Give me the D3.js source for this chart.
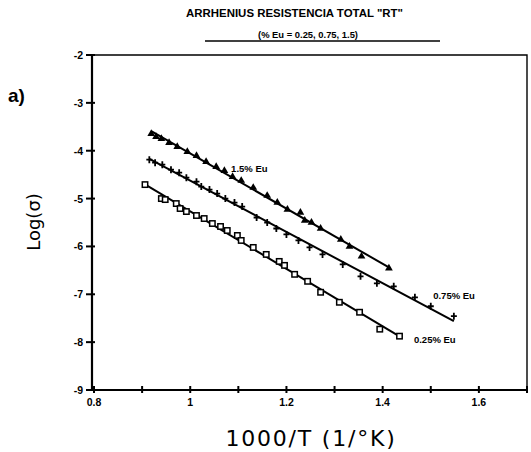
<!DOCTYPE html>
<html>
<head>
<meta charset="utf-8">
<script src="https://cdn.jsdelivr.net/npm/d3@7/dist/d3.min.js"></script>
<style>
  html, body { margin: 0; padding: 0; background: #fff; }
  svg { display: block; }
  text { fill: #000; }
</style>
</head>
<body>
<svg id="chart" width="531" height="452"></svg>
<script>
// Arrhenius plot: log(sigma) versus 1000/T for three Eu concentrations

// 1.5 % Eu  (filled markers)
const eu150X = [0.919, 0.929, 0.940, 0.956, 0.973, 0.994, 1.013, 1.033, 1.054, 1.071, 1.088, 1.106,
                1.131, 1.160, 1.181, 1.202, 1.229, 1.238, 1.252, 1.271, 1.313, 1.331, 1.356, 1.413];
const eu150Y = [-3.646, -3.708, -3.750, -3.833, -3.917, -4.021, -4.104, -4.229, -4.333, -4.417, -4.542, -4.625,
                -4.771, -4.938, -5.083, -5.229, -5.292, -5.458, -5.500, -5.625, -5.854, -6.000, -6.208, -6.458];

// 0.75 % Eu  (crosses)
const eu075X = [0.915, 0.927, 0.942, 0.960, 0.977, 0.992, 1.013, 1.023, 1.040, 1.056, 1.073, 1.092, 1.108,
                1.138, 1.160, 1.179, 1.200, 1.225, 1.248, 1.275, 1.317, 1.354, 1.388, 1.423, 1.467, 1.500, 1.548];
const eu075Y = [-4.188, -4.250, -4.292, -4.396, -4.458, -4.563, -4.646, -4.750, -4.813, -4.896, -5.000, -5.083, -5.167,
                -5.396, -5.500, -5.625, -5.750, -5.875, -6.021, -6.167, -6.375, -6.625, -6.771, -6.833, -7.063, -7.250, -7.458];

// 0.25 % Eu  (open squares)
const eu025X = [0.906, 0.940, 0.948, 0.971, 0.979, 0.992, 1.013, 1.029, 1.046, 1.063, 1.077, 1.098,
                1.106, 1.131, 1.158, 1.185, 1.196, 1.217, 1.244, 1.271, 1.310, 1.352, 1.394, 1.435];
const eu025Y = [-4.708, -5.000, -5.021, -5.104, -5.208, -5.271, -5.354, -5.417, -5.521, -5.583, -5.667, -5.771,
                -5.875, -6.021, -6.167, -6.313, -6.396, -6.583, -6.729, -6.958, -7.167, -7.375, -7.729, -7.875];

const seriesNames = ["1.5% Eu", "0.75% Eu", "0.25% Eu"];
const xTicks = [0.8, 0.9, 1.0, 1.1, 1.2, 1.3, 1.4, 1.5, 1.6, 1.7];
const xTickLabels = ["0.8", "", "1", "", "1.2", "", "1.4", "", "1.6", ""];
const yTicks = [-2, -3, -4, -5, -6, -7, -8, -9];
const yTickLabels = ["-2", "-3", "-4", "-5", "-6", "-7", "-8", "-9"];

const svg = d3.select("#chart");
const plot = { left: 92, right: 527, top: 55, bottom: 390 };

const x = d3.scaleLinear().domain([0.8, 1.7]).range([plot.left + 2, plot.right]);
const y = d3.scaleLinear().domain([-9, -2]).range([plot.bottom, plot.top]);

const zip = (xs, ys) => xs.map((v, i) => ({ x: v, y: ys[i] }));
const series = [
  { name: seriesNames[0], pts: zip(eu150X, eu150Y), marker: "tri" },
  { name: seriesNames[1], pts: zip(eu075X, eu075Y), marker: "plus" },
  { name: seriesNames[2], pts: zip(eu025X, eu025Y), marker: "square" }
];

const boldFont = "'Liberation Sans', Arial, sans-serif";

// Titles
svg.append("text")
  .attr("x", 186).attr("y", 17)
  .attr("textLength", 217).attr("lengthAdjust", "spacingAndGlyphs")
  .style("font-family", boldFont)
  .style("font-weight", "bold").style("font-size", "10px")
  .text("ARRHENIUS RESISTENCIA TOTAL \"RT\"");

svg.append("text")
  .attr("x", 258).attr("y", 38)
  .attr("textLength", 100).attr("lengthAdjust", "spacingAndGlyphs")
  .style("font-family", boldFont)
  .style("font-weight", "bold").style("font-size", "9.5px")
  .text("(% Eu = 0.25, 0.75, 1.5)");

svg.append("line")
  .attr("x1", 205).attr("x2", 440).attr("y1", 41).attr("y2", 41)
  .attr("stroke", "#000").attr("stroke-width", 1.3);

// Panel letter
svg.append("text")
  .attr("x", 8).attr("y", 102)
  .style("font-family", boldFont)
  .style("font-weight", "bold").style("font-size", "19px")
  .text("a)");

// Frame
const frame = svg.append("g").attr("stroke", "#000").attr("fill", "none");
frame.append("path")
  .attr("d", `M${plot.left},${plot.top}H${plot.right}V${plot.bottom}`)
  .attr("stroke-width", 1.4);
frame.append("path")
  .attr("d", `M${plot.left},${plot.top}V${plot.bottom}H${plot.right}`)
  .attr("stroke-width", 2.2);

// X axis ticks (crossing the axis line)
const gx = svg.append("g");
gx.selectAll("line").data(xTicks).join("line")
  .attr("x1", d => x(d)).attr("x2", d => x(d))
  .attr("y1", plot.bottom - 4).attr("y2", plot.bottom + 3)
  .attr("stroke", "#000").attr("stroke-width", 2);
gx.selectAll("text").data(xTicks).join("text")
  .attr("x", d => x(d)).attr("y", plot.bottom + 16)
  .attr("text-anchor", "middle")
  .style("font-family", boldFont)
  .style("font-weight", "bold").style("font-size", "10.5px")
  .text((d, i) => xTickLabels[i]);

// Y axis ticks
const gy = svg.append("g");
gy.selectAll("line").data(yTicks).join("line")
  .attr("x1", plot.left - 6).attr("x2", plot.left + 3)
  .attr("y1", d => y(d)).attr("y2", d => y(d))
  .attr("stroke", "#000").attr("stroke-width", 2);
gy.selectAll("text").data(yTicks).join("text")
  .attr("x", plot.left - 9).attr("y", d => y(d) + 4)
  .attr("text-anchor", "end")
  .style("font-family", boldFont)
  .style("font-weight", "bold").style("font-size", "10.5px")
  .text((d, i) => yTickLabels[i]);

// Axis titles
svg.append("text")
  .attr("x", 311).attr("y", 446)
  .attr("text-anchor", "middle")
  .style("font-family", "'DejaVu Sans', sans-serif")
  .style("font-size", "22px").style("letter-spacing", "1.8px")
  .text("1000/T (1/°K)");

svg.append("text")
  .attr("transform", "translate(40,222) rotate(-90)")
  .attr("text-anchor", "middle")
  .style("font-family", "'DejaVu Sans', sans-serif")
  .style("font-size", "18px")
  .text("Log(σ)");

// Least-squares fit line for each series, spanning its data
function fit(pts) {
  const mx = d3.mean(pts, p => p.x), my = d3.mean(pts, p => p.y);
  const b = d3.sum(pts, p => (p.x - mx) * (p.y - my)) / d3.sum(pts, p => (p.x - mx) ** 2);
  const a = my - b * mx;
  const [x0, x1] = d3.extent(pts, p => p.x);
  return [{ x: x0, y: a + b * x0 }, { x: x1, y: a + b * x1 }];
}

const line = d3.line().x(d => x(d.x)).y(d => y(d.y));
series.forEach(s => {
  svg.append("path")
    .attr("d", line(fit(s.pts)))
    .attr("fill", "none").attr("stroke", "#000").attr("stroke-width", 2);
});

// Markers
const triPath = d3.symbol().type(d3.symbolTriangle).size(26)();
series.forEach(s => {
  const g = svg.append("g");
  const m = g.selectAll("g").data(s.pts).join("g")
    .attr("transform", d => `translate(${x(d.x)},${y(d.y)})`);
  if (s.marker === "tri") {
    m.append("path").attr("d", triPath).attr("fill", "#000");
  } else if (s.marker === "plus") {
    m.append("path").attr("d", "M-3,0H3M0,-3.5V3.5")
      .attr("stroke", "#000").attr("stroke-width", 1.8).attr("fill", "none");
  } else {
    m.append("rect").attr("x", -2.7).attr("y", -2.7).attr("width", 5.4).attr("height", 5.4)
      .attr("fill", "#fff").attr("stroke", "#000").attr("stroke-width", 1.5);
  }
});

// Series labels
const labelPos = [
  { x: 1.085, y: -4.44 },
  { x: 1.505, y: -7.1 },
  { x: 1.465, y: -8.02 }
];
series.forEach((s, i) => {
  svg.append("text")
    .attr("x", x(labelPos[i].x)).attr("y", y(labelPos[i].y))
    .style("font-family", boldFont)
    .style("font-weight", "bold").style("font-size", "9.5px")
    .text(s.name);
});
</script>
</body>
</html>
